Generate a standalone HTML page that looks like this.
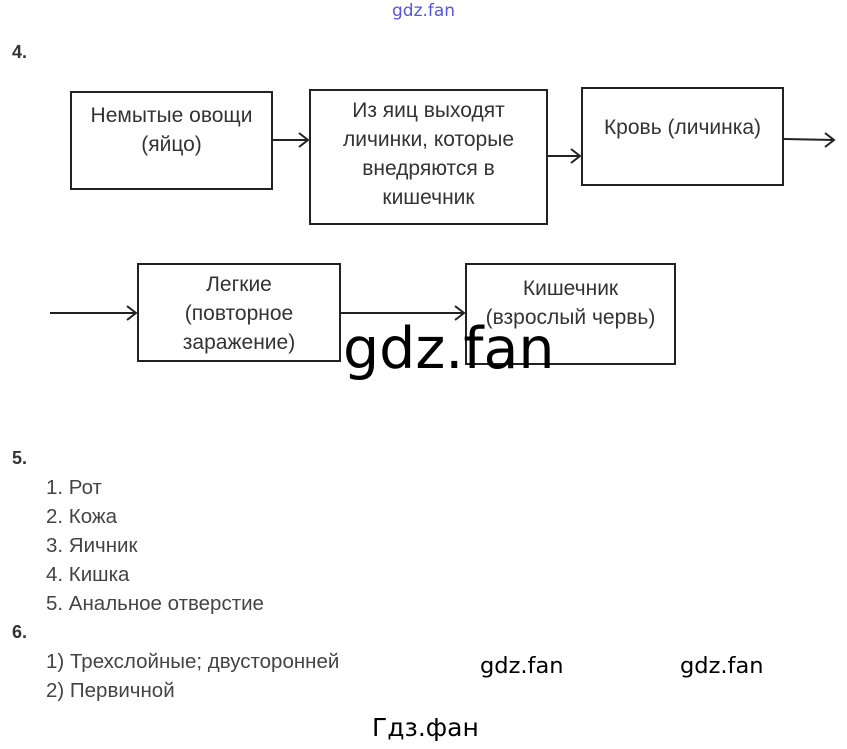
<!DOCTYPE html>
<html><head><meta charset="utf-8"><style>
body{margin:0;width:847px;height:749px;background:#fff;position:relative;overflow:hidden;font-family:"Liberation Sans",sans-serif}
.t{position:absolute;white-space:nowrap}
.bx{position:absolute;border:2px solid #222;box-sizing:border-box;text-align:center;color:#333;font-family:"Liberation Sans",sans-serif;font-size:21px;line-height:29px;white-space:nowrap}
.li{position:absolute;left:46px;font-size:20.5px;color:#444}
.h{position:absolute;left:12px;font-weight:bold;font-size:18px;color:#333}
</style></head><body>
<div class="t" style="left:392px;top:1px;font-size:17px;color:#5555dd;font-family:'DejaVu Sans',sans-serif">gdz.fan</div>
<div class="h" style="top:42px">4.</div>

<div class="bx" style="left:70px;top:91px;width:203px;height:99px;padding-top:8px">Немытые овощи<br>(яйцо)</div>
<div class="bx" style="left:309px;top:89px;width:239px;height:136px;padding-top:5px">Из яиц выходят<br>личинки, которые<br>внедряются в<br>кишечник</div>
<div class="bx" style="left:581px;top:87px;width:203px;height:99px;padding-top:24px">Кровь (личинка)</div>
<div class="bx" style="left:137px;top:263px;width:204px;height:99px;padding-top:5px">Легкие<br>(повторное<br>заражение)</div>
<div class="bx" style="left:465px;top:263px;width:211px;height:102px;padding-top:9px">Кишечник<br>(взрослый червь)</div>

<svg width="847" height="749" style="position:absolute;left:0;top:0" fill="none" stroke="#222" stroke-width="2">
<path d="M273 140H308M299 133L308 140L299 147"/>
<path d="M548 156H580M571 149L580 156L571 163"/>
<path d="M784 139L834 140M825 133L834 140L825 147"/>
<path d="M50 313H136M127 306L136 313L127 320"/>
<path d="M341 313H464M455 306L464 313L455 320"/>
</svg>

<div class="t" style="left:343px;top:316px;font-size:57px;color:#000;font-family:'DejaVu Sans',sans-serif">gdz.fan</div>

<div class="h" style="top:448px">5.</div>
<div class="li" style="top:476px">1. Рот</div>
<div class="li" style="top:505px">2. Кожа</div>
<div class="li" style="top:534px">3. Яичник</div>
<div class="li" style="top:563px">4. Кишка</div>
<div class="li" style="top:592px">5. Анальное отверстие</div>
<div class="h" style="top:622px">6.</div>
<div class="li" style="top:650px">1) Трехслойные; двусторонней</div>
<div class="li" style="top:679px">2) Первичной</div>

<div class="t" style="left:480px;top:653px;font-size:22.5px;color:#000;font-family:'DejaVu Sans',sans-serif">gdz.fan</div>
<div class="t" style="left:680px;top:653px;font-size:22.5px;color:#000;font-family:'DejaVu Sans',sans-serif">gdz.fan</div>
<div class="t" style="left:372px;top:713px;font-size:25px;color:#000;font-family:'DejaVu Sans',sans-serif">Гдз.фан</div>
</body></html>
